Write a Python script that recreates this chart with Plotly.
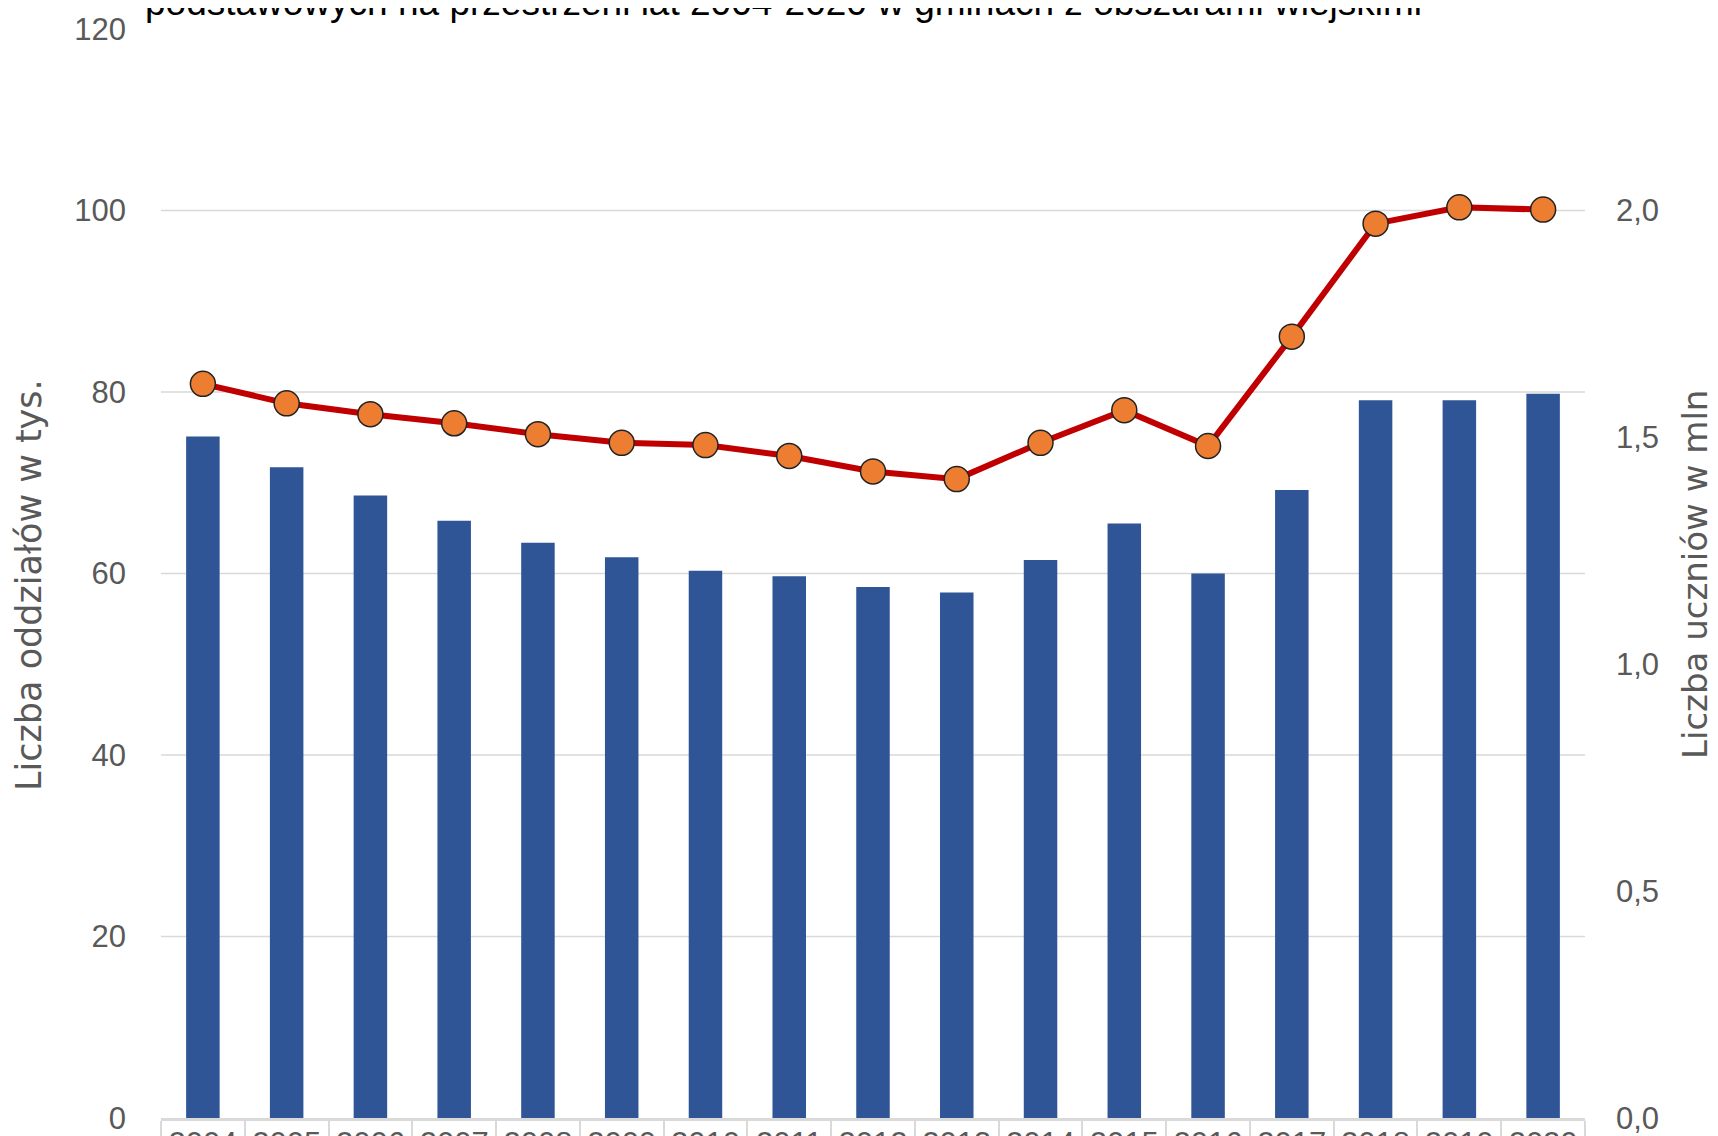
import plotly.graph_objects as go

years = [str(y) for y in range(2004, 2021)]
oddzialy_tys = [75.1, 71.7, 68.6, 65.8, 63.4, 61.8, 60.3, 59.7, 58.5, 57.9,
                61.5, 65.5, 60.0, 69.2, 79.1, 79.1, 79.8]
uczniowie_mln = [1.618, 1.575, 1.551, 1.531, 1.507, 1.488, 1.483, 1.459, 1.425, 1.408,
                 1.488, 1.560, 1.481, 1.722, 1.971, 2.007, 2.002]
left_ticks = [0, 20, 40, 60, 80, 100, 120]
right_ticks = [0.0, 0.5, 1.0, 1.5, 2.0]
grid_levels = [20, 40, 60, 80, 100]

title_text = "podstawowych na przestrzeni lat 2004-2020 w gminach z obszarami wiejskimi"
left_title = "Liczba oddziałów w tys."
right_title = "Liczba uczniów w mln"

# page has an 8px body margin: figure starts at page (8, 8)
OFF = 8
W, H = 1718 - OFF, 1136 - OFF
L, R, T, B = 161 - OFF, 133, 29 - OFF, 18
sans = "Liberation Sans, Arial, sans-serif"
wide = "DejaVu Sans, sans-serif"

fig = go.Figure()
fig.add_trace(go.Bar(x=years, y=oddzialy_tys, marker=dict(color="#2F5597", line=dict(width=0)),
                     name="Liczba oddziałów", yaxis="y"))
fig.add_trace(go.Scatter(x=years, y=uczniowie_mln, mode="lines+markers", yaxis="y2",
                         name="Liczba uczniów",
                         line=dict(color="#C00000", width=6),
                         marker=dict(color="#ED7D31", size=25,
                                     line=dict(color="#222222", width=1.5))))

shapes = [dict(type="line", xref="paper", x0=0, x1=1, yref="y", y0=g, y1=g,
               line=dict(color="#D9D9D9", width=1.5), layer="below") for g in grid_levels]

plot_w = W - L - R
plot_h = H - T - B


def px_x(page_x):
    return (page_x - OFF - L) / plot_w


def px_y(page_y):
    return (H - B - (page_y - OFF)) / plot_h


fig.update_layout(
    width=W, height=H,
    margin=dict(l=L, r=R, t=T, b=B, autoexpand=False),
    paper_bgcolor="white", plot_bgcolor="white",
    showlegend=False,
    bargap=0.6,
    separators=", ",
    shapes=shapes,
    xaxis=dict(type="category", range=[-0.5, len(years) - 0.5], showgrid=False,
               showline=True, linecolor="#D9D9D9",
               linewidth=3, ticks="outside", tickson="boundaries", ticklen=20,
               tickcolor="#D9D9D9", tickwidth=1.5, tickangle=0, automargin=False,
               ticklabelstandoff=-4,
               tickfont=dict(family=sans, size=31, color="#595959")),
    yaxis=dict(range=[0, 120], tickvals=left_ticks, showgrid=False, zeroline=False,
               showline=False, ticks="", ticklabelstandoff=34, automargin=False,
               tickfont=dict(family=sans, size=31, color="#595959")),
    yaxis2=dict(range=[0, 2.4], tickvals=right_ticks, tickformat=".1f", overlaying="y",
                side="right", showgrid=False, zeroline=False, showline=False, ticks="",
                ticklabelstandoff=30, automargin=False,
                tickfont=dict(family=sans, size=31, color="#595959")),
    annotations=[
        dict(text=title_text, xref="paper", yref="paper",
             x=px_x(783), y=px_y(2), xanchor="center",
             yanchor="middle", showarrow=False,
             font=dict(family=sans, size=37, color="#000000")),
        dict(text=left_title, textangle=-90, xref="paper", yref="paper",
             x=px_x(29), y=px_y(585), xanchor="center",
             yanchor="middle", showarrow=False,
             font=dict(family=wide, size=35, color="#595959")),
        dict(text=right_title, textangle=-90, xref="paper", yref="paper",
             x=px_x(1695), y=px_y(575), xanchor="center",
             yanchor="middle", showarrow=False,
             font=dict(family=wide, size=34, color="#595959")),
    ],
)

fig.write_html("out.html")
